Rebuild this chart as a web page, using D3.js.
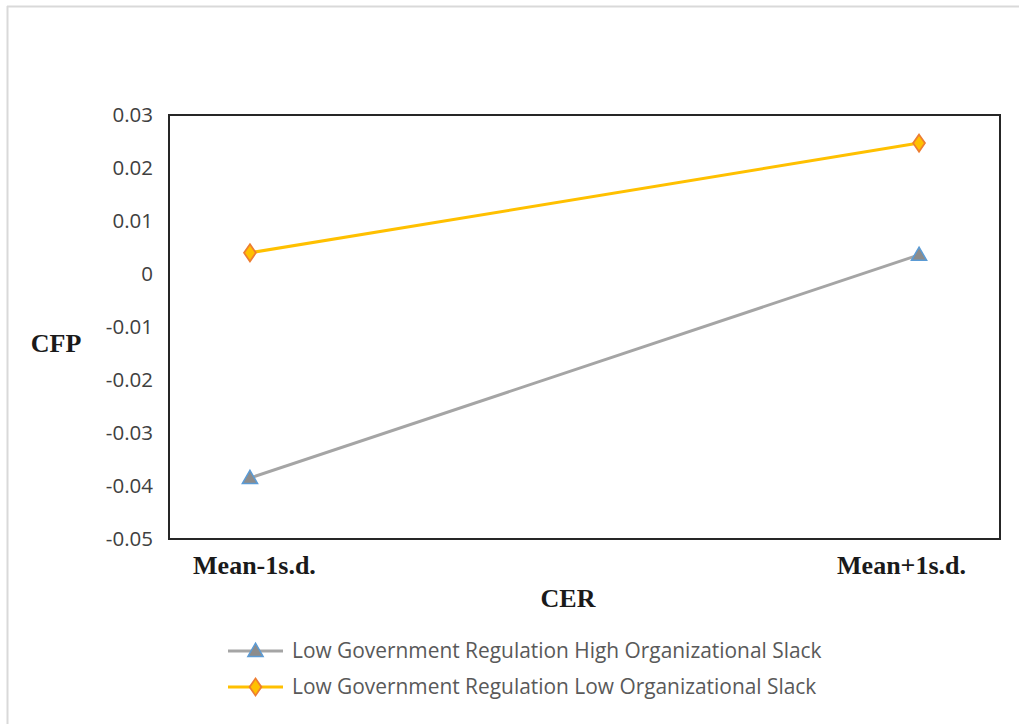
<!DOCTYPE html>
<html>
<head>
<meta charset="utf-8">
<script src="https://cdn.jsdelivr.net/npm/d3@7"></script>
<style>
  html, body { margin: 0; padding: 0; background: #fff; }
  svg { display: block; }
</style>
</head>
<body>
<svg id="chart" width="1019" height="724"></svg>
<script>
// Simple slopes of CFP on CER
const categories = ["Mean-1s.d.", "Mean+1s.d."];
const seriesNames = [
  "Low Government Regulation High Organizational Slack",
  "Low Government Regulation Low Organizational Slack"
];
const highSlack = [-0.0385, 0.0036];
const lowSlack = [0.0040, 0.0247];
const yTicks = [0.03, 0.02, 0.01, 0, -0.01, -0.02, -0.03, -0.04, -0.05];
const yTickLabels = ["0.03", "0.02", "0.01", "0", "-0.01", "-0.02", "-0.03", "-0.04", "-0.05"];

const svg = d3.select("#chart");
const plot = { left: 169, top: 115, right: 1000, bottom: 539 };
const serif = "'Liberation Serif', 'Times New Roman', serif";
const sans = "'Open Sans', 'Liberation Sans', sans-serif";

// outer frame (only top and left edges visible)
svg.append("line").attr("x1", 7).attr("x2", 1019).attr("y1", 6.5).attr("y2", 6.5)
  .attr("stroke", "#d9d9d9").attr("stroke-width", 2);
svg.append("line").attr("x1", 7.5).attr("x2", 7.5).attr("y1", 6).attr("y2", 724)
  .attr("stroke", "#d9d9d9").attr("stroke-width", 2);

const x = d3.scalePoint().domain(categories)
  .range([plot.left, plot.right]).padding(0.121);
const y = d3.scaleLinear().domain([-0.05, 0.03]).range([plot.bottom, plot.top]);

// plot border
svg.append("rect")
  .attr("x", plot.left).attr("y", plot.top)
  .attr("width", plot.right - plot.left).attr("height", plot.bottom - plot.top)
  .attr("fill", "none").attr("stroke", "#262626").attr("stroke-width", 2);

// y axis labels
const yAxis = d3.axisLeft(y).tickValues(yTicks)
  .tickFormat((d, i) => yTickLabels[i]).tickSize(0).tickPadding(16);
const gy = svg.append("g").attr("transform", `translate(${plot.left},0)`).call(yAxis);
gy.select(".domain").remove();
gy.selectAll("text")
  .attr("font-family", sans).attr("font-size", 20.5).attr("fill", "#404040");

// x axis labels
const xAxis = d3.axisBottom(x).tickSize(0).tickPadding(17);
const gx = svg.append("g").attr("transform", `translate(0,${plot.bottom})`).call(xAxis);
gx.select(".domain").remove();
gx.selectAll("text")
  .attr("font-family", serif).attr("font-weight", "bold")
  .attr("font-size", 26).attr("fill", "#1a1a1a")
  .attr("dx", (d, i) => (i === 1 ? -18 : 4));

// axis titles
svg.append("text").attr("x", 568).attr("y", 607).attr("text-anchor", "middle")
  .attr("font-family", serif).attr("font-weight", "bold")
  .attr("font-size", 26).attr("fill", "#1a1a1a").text("CER");
svg.append("text").attr("x", 56).attr("y", 352).attr("text-anchor", "middle")
  .attr("font-family", serif).attr("font-weight", "bold")
  .attr("font-size", 26).attr("fill", "#1a1a1a").text("CFP");

const line = d3.line().x((d, i) => x(categories[i])).y(d => y(d));

const series = [
  { name: seriesNames[0], values: highSlack, stroke: "#a5a5a5", marker: "triangle",
    fill: "#8c8c8c", mstroke: "#5b9bd5" },
  { name: seriesNames[1], values: lowSlack, stroke: "#ffc000", marker: "diamond",
    fill: "#ffc000", mstroke: "#ed7d31" }
];

function drawMarker(g, s, cx, cy) {
  const sym = s.marker === "triangle" ? d3.symbolTriangle : d3.symbolDiamond;
  const size = s.marker === "triangle" ? 100 : 85;
  g.append("path")
    .attr("d", d3.symbol().type(sym).size(size)())
    .attr("transform", `translate(${cx},${cy + (s.marker === "triangle" ? 1 : 0)})` +
      (s.marker === "diamond" ? " scale(1.2,1)" : ""))
    .attr("fill", s.fill).attr("stroke", s.mstroke).attr("stroke-width", 1.5);
}

series.forEach(s => {
  svg.append("path").datum(s.values).attr("d", line)
    .attr("fill", "none").attr("stroke", s.stroke).attr("stroke-width", 3);
  const g = svg.append("g");
  s.values.forEach((v, i) => drawMarker(g, s, x(categories[i]), y(v)));
});

// legend
series.forEach((s, i) => {
  const ly = 651 + i * 36;
  svg.append("line").attr("x1", 228).attr("x2", 283).attr("y1", ly).attr("y2", ly)
    .attr("stroke", s.stroke).attr("stroke-width", 3);
  drawMarker(svg.append("g"), s, 255.5, ly);
  svg.append("text").attr("x", 292).attr("y", ly + 7)
    .attr("font-family", sans).attr("font-size", 20.9)
    .attr("fill", "#595959").text(s.name);
});
</script>
</body>
</html>
